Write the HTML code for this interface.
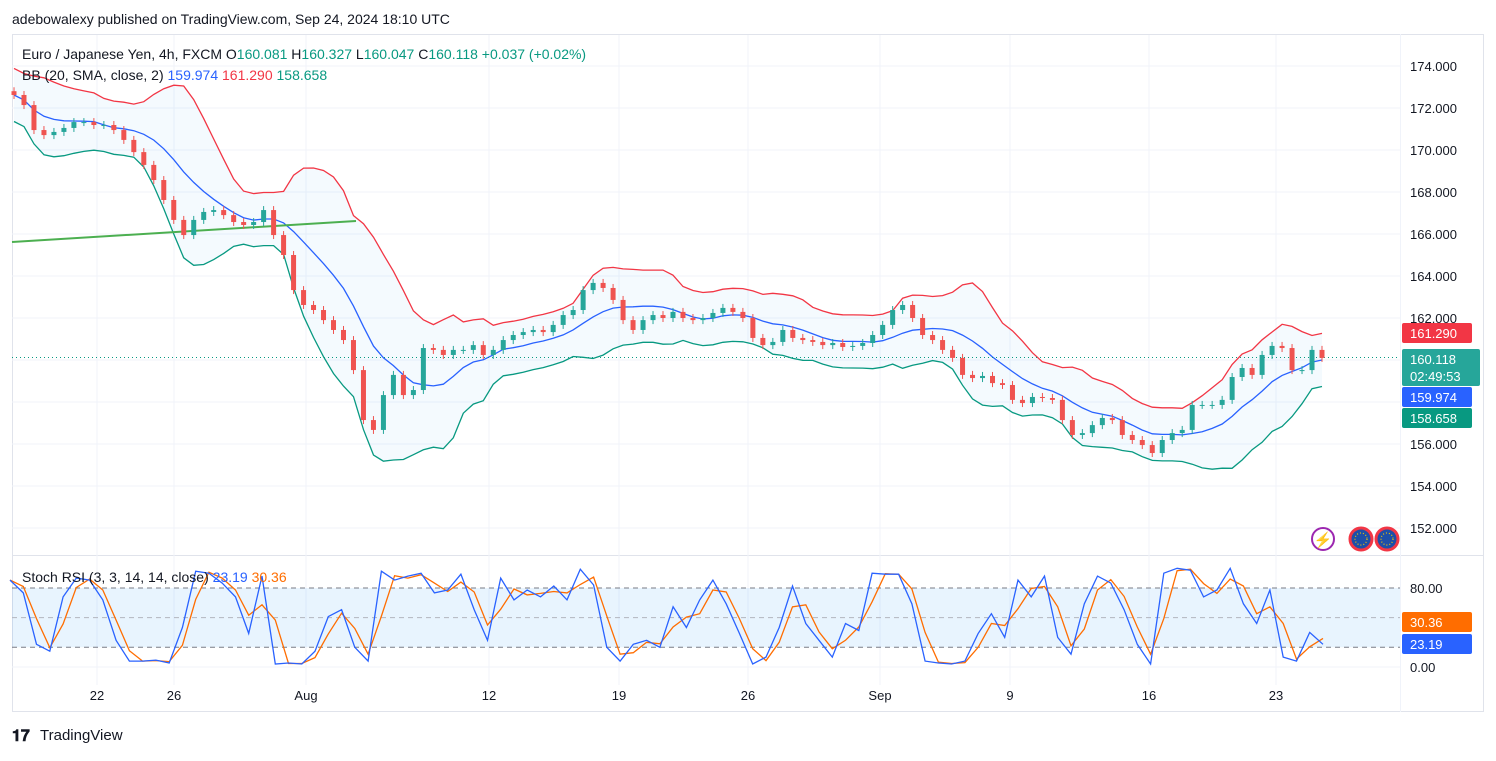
<!DOCTYPE html>
<html><head><meta charset="utf-8"><style>
body{margin:0;background:#fff;font-family:"Liberation Sans",sans-serif;}
svg text{font-family:"Liberation Sans",sans-serif;}
</style></head><body>
<svg id="c" width="1496" height="756" xmlns="http://www.w3.org/2000/svg">
<rect width="1496" height="756" fill="#fff"/>
<text x="12" y="24" font-size="14" fill="#131722">adebowalexy published on TradingView.com, Sep 24, 2024 18:10 UTC</text>
<rect x="12.5" y="34.5" width="1471" height="677" fill="none" stroke="#e0e3eb"/>
<line x1="12" y1="555.5" x2="1484" y2="555.5" stroke="#e0e3eb"/>
<line x1="1400.5" y1="34" x2="1400.5" y2="712" stroke="#f0f3fa"/>
<g id="grid"></g>
<g id="main"></g>
<g id="stoch"></g>
<g id="axes"></g>
<g>
<text x="22" y="59" font-size="14" fill="#131722">Euro / Japanese Yen, 4h, FXCM <tspan fill="#131722">O</tspan><tspan fill="#089981">160.081</tspan> <tspan fill="#131722">H</tspan><tspan fill="#089981">160.327</tspan> <tspan fill="#131722">L</tspan><tspan fill="#089981">160.047</tspan> <tspan fill="#131722">C</tspan><tspan fill="#089981">160.118 +0.037 (+0.02%)</tspan></text>
<text x="22" y="80" font-size="14" fill="#131722">BB (20, SMA, close, 2) <tspan fill="#2962ff">159.974</tspan> <tspan fill="#f23645">161.290</tspan> <tspan fill="#089981">158.658</tspan></text>
<text x="22" y="582" font-size="14" fill="#131722">Stoch RSI (3, 3, 14, 14, close) <tspan fill="#2962ff">23.19</tspan> <tspan fill="#ff6d00">30.36</tspan></text>
</g>
<g>
<circle cx="1323" cy="539" r="11" fill="#fff" stroke="#9c27b0" stroke-width="2"/>
<text x="1323" y="545" font-size="15" fill="#9c27b0" text-anchor="middle">⚡</text>
<circle cx="1361" cy="539" r="11" fill="#1e4fa8" stroke="#f23645" stroke-width="3"/>
<circle cx="1387" cy="539" r="11" fill="#1e4fa8" stroke="#f23645" stroke-width="3"/>
<circle cx="1361" cy="539" r="6" fill="none" stroke="#f5c400" stroke-width="1.2" stroke-dasharray="1 2"/>
<circle cx="1387" cy="539" r="6" fill="none" stroke="#f5c400" stroke-width="1.2" stroke-dasharray="1 2"/>
</g>
<g>
<text x="12" y="741" font-size="16" font-weight="bold" fill="#131722">𝟏𝟕</text>
<text x="40" y="740" font-size="15" fill="#131722">TradingView</text>
</g>
</svg>
<script>
const closes=[172.62,172.14,170.95,170.71,170.86,171.05,171.33,171.33,171.19,171.19,170.95,170.48,169.90,169.29,168.57,167.62,166.67,165.95,166.67,167.05,167.14,166.90,166.57,166.43,166.57,167.14,165.95,165.00,163.33,162.62,162.38,161.90,161.43,160.95,159.52,157.14,156.67,158.33,159.29,158.33,158.57,160.57,160.48,160.24,160.48,160.48,160.71,160.24,160.48,160.95,161.19,161.33,161.43,161.33,161.67,162.14,162.38,163.33,163.67,163.43,162.86,161.90,161.43,161.90,162.14,162.00,162.29,162.00,161.90,162.00,162.24,162.48,162.29,162.00,161.05,160.71,160.86,161.43,161.05,160.95,160.86,160.71,160.81,160.62,160.67,160.81,161.19,161.67,162.38,162.62,162.00,161.19,160.95,160.48,160.10,159.29,159.14,159.24,158.90,158.81,158.10,157.95,158.24,158.19,158.10,157.14,156.43,156.52,156.90,157.24,157.14,156.43,156.19,155.95,155.57,156.19,156.52,156.67,157.86,157.86,157.86,158.10,159.19,159.62,159.29,160.24,160.67,160.57,159.52,159.52,160.48,160.10];
const firstOpen=172.80;
const stochK=[88,75,23,16,71,90,88,68,27,6,6,7,4,40,97,95,85,71,34,92,3,4,3,16,51,58,20,6,97,88,92,95,75,78,94,58,27,90,68,78,71,82,68,99,83,20,6,23,27,20,61,40,68,
88,64,34,3,10,40,82,44,27,10,44,37,95,94,94,64,6,4,3,6,34,54,30,88,71,92,30,13,64,92,85,58,23,3,95,100,98,71,78,100,64,44,78,10,6,35,23];
const priceTicks=[174,172,170,168,166,164,162,160,158,156,154,152];
const priceTickLabels=["174.000","172.000","170.000","168.000","166.000","164.000","162.000","160.000","158.000","156.000","154.000","152.000"];
const stochTicks=[80,0];
const stochTickLabels=["80.00","0.00"];
const dateLabels=["22","26","Aug","12","19","26","Sep","9","16","23"];
const dateX=[97,174,306,489,619,748,880,1010,1149,1276];

const NS="http://www.w3.org/2000/svg";
function mk(tag,attrs,parent){const e=document.createElementNS(NS,tag);for(const k in attrs)e.setAttribute(k,attrs[k]);parent.appendChild(e);return e;}
const yP=p=>66+(174-p)*21;
const xI=i=>14+i*(1308/(closes.length-1));
const yS=v=>667-v*79/80;
const xS=i=>10+i*(1313/(stochK.length-1));
const grid=document.getElementById('grid'),main=document.getElementById('main'),st=document.getElementById('stoch'),ax=document.getElementById('axes');

priceTicks.forEach((p,i)=>{
  const g=mk('line',{x1:12,x2:1400,y1:yP(p),y2:yP(p),stroke:'#f0f3fa'},grid);
  
  
  const t=mk('text',{x:1410,y:yP(p)+5,'font-size':13,fill:'#131722'},ax);t.textContent=priceTickLabels[i];
  
  
});
dateX.forEach((x,i)=>{
  const g=mk('line',{x1:x,x2:x,y1:35,y2:685,stroke:'#f0f3fa'},grid);
  
  
  const t=mk('text',{x:x,y:700,'font-size':13,fill:'#131722','text-anchor':'middle'},ax);t.textContent=dateLabels[i];
  
  
});

const W=9,K=2.3;const mid=[],up=[],lo=[];
closes.forEach((c,i)=>{const s=closes.slice(Math.max(0,i-W+1),i+1);const m=s.reduce((a,b)=>a+b,0)/s.length;
 let sd=Math.sqrt(s.reduce((a,b)=>a+(b-m)*(b-m),0)/s.length);sd=Math.max(sd,0.55);
 mid.push(m);up.push(m+K*sd);lo.push(m-K*sd);});
const pts=a=>a.map((v,i)=>xI(i).toFixed(1)+','+yP(v).toFixed(1));
const fill=mk('polygon',{points:pts(up).concat(pts(lo).reverse()).join(' '),fill:'rgba(33,150,243,0.05)'},main);


[[up,'#f23645','bb-upper'],[mid,'#2962ff','bb-basis'],[lo,'#089981','bb-lower']].forEach(([a,c,n])=>{
 const l=mk('polyline',{points:pts(a).join(' '),fill:'none',stroke:c,'stroke-width':1.3},main);
 
 
});
const tl=mk('line',{x1:12,y1:242,x2:356,y2:221,stroke:'#4caf50','stroke-width':2},main);


const pl=mk('line',{x1:12,x2:1400,y1:yP(160.118),y2:yP(160.118),stroke:'#089981','stroke-dasharray':'1 3'},main);


closes.forEach((c,i)=>{
 const o=i?closes[i-1]:firstOpen;const x=xI(i);const upc=c>=o;const col=upc?'#26a69a':'#ef5350';
 const t=yP(Math.max(o,c)),b=yP(Math.min(o,c));
 const w=mk('line',{x1:x,x2:x,y1:t-4,y2:b+4,stroke:col},main);
 
 
 const r=mk('rect',{x:x-2.5,y:t,width:5,height:Math.max(1,b-t),fill:col},main);
 
 
});

const band=mk('rect',{x:12,y:yS(80),width:1388,height:yS(20)-yS(80),fill:'rgba(33,150,243,0.1)'},st);


[[80,'#787b86','5 4'],[50,'#b2b5be','5 4'],[20,'#787b86','5 4']].forEach(([v,c,d])=>{
 const l=mk('line',{x1:12,x2:1400,y1:yS(v),y2:yS(v),stroke:c,'stroke-dasharray':d},st);
 
 
});
const g0=mk('line',{x1:12,x2:1400,y1:yS(0),y2:yS(0),stroke:'#f0f3fa'},st);


stochTicks.forEach((v,i)=>{const t=mk('text',{x:1410,y:yS(v)+5,'font-size':13,fill:'#131722'},ax);t.textContent=stochTickLabels[i];
 
 });
const stochD=stochK.map((v,i)=>(v+(i?stochK[i-1]:v))/2);
[[stochD,'#ff6d00','stoch-d-line'],[stochK,'#2962ff','stoch-k-line']].forEach(([a,c,n])=>{
 const l=mk('polyline',{points:a.map((v,i)=>xS(i).toFixed(1)+','+yS(v).toFixed(1)).join(' '),fill:'none',stroke:c,'stroke-width':1.3},st);
 
 
});

function tag(y,h,bg,lines,name){
 const r=mk('rect',{x:1402,y:y,width:h>22?78:70,height:h,fill:bg,rx:2},ax);
 
 
 lines.forEach((s,i)=>{const t=mk('text',{x:1410,y:y+15+i*17,'font-size':13,fill:'#fff'},ax);t.textContent=s;
  
  });
}
tag(323,20,'#f23645',['161.290'],'bb-upper-tag');
tag(349,37,'#26a69a',['160.118','02:49:53'],'last-price-tag');
tag(387,20,'#2962ff',['159.974'],'bb-basis-tag');
tag(408,20,'#089981',['158.658'],'bb-lower-tag');
tag(612,20,'#ff6d00',['30.36'],'stoch-d-tag');
tag(634,20,'#2962ff',['23.19'],'stoch-k-tag');
</script>
</body></html>
